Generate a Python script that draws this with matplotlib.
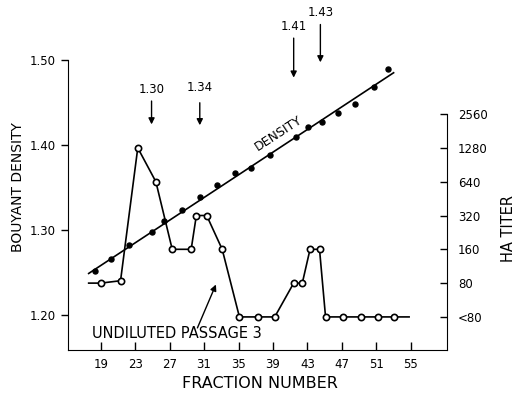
import numpy as np
import matplotlib
matplotlib.use('Agg')
import matplotlib.pyplot as plt

# densidad (puntos llenos)
frac_dens = [18.3, 20.2, 22.3, 24.9, 26.4, 28.4, 30.5, 32.5, 34.6, 36.5,
             38.6, 41.7, 43.1, 44.7, 46.5, 48.5, 50.7, 52.4]
densidad = [1.252, 1.266, 1.282, 1.298, 1.311, 1.324, 1.339, 1.353, 1.367, 1.373,
            1.388, 1.410, 1.421, 1.427, 1.438, 1.448, 1.468, 1.489]
# recta ajustada (extremos)
recta_x = [17.6, 53.0]
recta_y = [1.249, 1.485]

# titulo HA (circulos abiertos), 40 = "<80"
frac_ha = [17.6, 19.0, 21.3, 23.3, 25.4, 27.3, 29.5, 30.1, 31.3, 33.1, 35.1, 37.3,
           39.2, 41.4, 42.4, 43.3, 44.4, 45.1, 47.1, 49.2, 51.2, 53.0, 54.8]
titulo = [80, 80, 84, 1280, 640, 160, 160, 320, 320, 160, 40, 40,
          40, 80, 80, 160, 160, 40, 40, 40, 40, 40, 40]

xticks = [19, 23, 27, 31, 35, 39, 43, 47, 51, 55]
dticks = [1.20, 1.30, 1.40, 1.50]
hticks = [40, 80, 160, 320, 640, 1280, 2560]
hlabels = ['<80', '80', '160', '320', '640', '1280', '2560']

# flechas: etiqueta, fraccion, y etiqueta, y inicio, y punta
flechas = [('1.30', 24.9, 1.465, 1.455, 1.421),
           ('1.34', 30.5, 1.468, 1.453, 1.420),
           ('1.41', 41.4, 1.539, 1.529, 1.476),
           ('1.43', 44.5, 1.556, 1.545, 1.494)]

fig = plt.figure(figsize=(5.18, 3.95), dpi=100)
ax = fig.add_axes([68/518, 1-350/395, (447-68)/518, (350-60)/395])
ax2 = ax.twinx()

ax.set_xlim(15.2, 59.2)
ax.set_ylim(1.159, 1.50)
ax.plot(recta_x, recta_y, color='black', lw=1.2)
ax.plot(frac_dens, densidad, 'o', color='black', ms=3.6)

ax2.set_yscale('log', base=2)
ax2.set_ylim(20.3, 7760)
ax2.plot(frac_ha, titulo, '-o', color='black', lw=1.2, ms=4.5, mfc='white',
         mew=1.2, markevery=list(range(1, len(frac_ha)-1)))

ax.set_xticks(xticks)
ax.set_xticklabels([str(t) for t in xticks], fontsize=8.5)
ax.set_yticks(dticks)
ax.set_yticklabels(['%.2f' % t for t in dticks], fontsize=8.5)
ax2.set_yticks(hticks)
ax2.set_yticklabels(hlabels, fontsize=8.5)
ax2.minorticks_off()

ax.tick_params(axis='x', direction='in', length=6, width=1, pad=6)
ax.tick_params(axis='y', direction='out', length=5, width=1, pad=4)
ax2.tick_params(axis='y', direction='in', length=5, width=1, pad=8)

for a in (ax, ax2):
    a.spines['top'].set_visible(False)
ax2.spines['left'].set_visible(False)
ax2.spines['bottom'].set_visible(False)
ax.spines['right'].set_visible(False)
ax.spines['left'].set_bounds(1.159, 1.50)
ax2.spines['right'].set_bounds(20.3, 2560)

ax.set_xlabel('FRACTION NUMBER', fontsize=11.5)
ax.xaxis.set_label_coords(0.507, -0.117)
ax.xaxis.label.set_va('center')
ax.set_ylabel('BOUYANT DENSITY', fontsize=10)
ax.yaxis.set_label_coords(-0.133, 0.562)
ax.yaxis.label.set_va('center')
ax2.set_ylabel('HA TITER', fontsize=10.5)
ax2.yaxis.set_label_coords(1.163, 0.42)
ax2.yaxis.label.set_va('center')

ax.text(39.6, 1.414, 'DENSITY', fontsize=9, rotation=33, ha='center', va='center',
        rotation_mode='anchor')
ax.text(17.95, 1.178, 'UNDILUTED PASSAGE 3', fontsize=10.5, ha='left', va='center')
ax.annotate('', xy=(32.5, 1.239), xytext=(30.1, 1.182),
            arrowprops=dict(arrowstyle='-|>', color='black', lw=1, mutation_scale=9))

for lab, fx, yl, y0, y1 in flechas:
    ax.annotate('', xy=(fx, y1), xytext=(fx, y0), annotation_clip=False,
                arrowprops=dict(arrowstyle='-|>', color='black', lw=1, mutation_scale=9))
    ax.text(fx, yl, lab, fontsize=8.5, ha='center', va='center', clip_on=False)

fig.savefig('out.png', dpi=100)
